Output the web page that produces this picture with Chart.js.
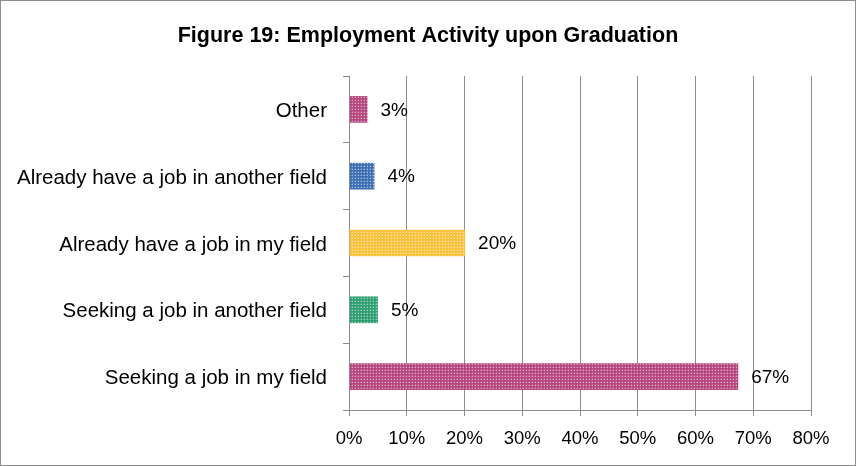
<!DOCTYPE html>
<html>
<head>
<meta charset="utf-8">
<script src="https://cdn.jsdelivr.net/npm/chart.js@4"></script>
<style>
  html, body { margin: 0; padding: 0; background: #fff; }
  #wrap { width: 856px; height: 466px; box-sizing: border-box; border: 1px solid #8c8c8c; position: relative; }
  canvas { position: absolute; left: -1px; top: -1px; }
</style>
</head>
<body>
<div id="wrap"><canvas id="chart" width="856" height="466"></canvas></div>
<script>
// Chart data (bottom to top in the picture, listed top to bottom here)
const categories = [
    'Other',
    'Already have a job in another field',
    'Already have a job in my field',
    'Seeking a job in another field',
    'Seeking a job in my field'
];
const shares = [3.2, 4.4, 20.1, 5.0, 67.4];
const barColors = ['#b5467e', '#3d70b2', '#f9c23a', '#2f9f72', '#b5467e'];
const xTicks = [0, 10, 20, 30, 40, 50, 60, 70, 80];
const chartTitle = 'Figure 19: Employment Activity upon Graduation';

const FONT = '"Liberation Sans", Arial, sans-serif';

// small grid-dot fill like the office-style pattern
function makePattern(color) {
    const c = document.createElement('canvas');
    c.width = 3; c.height = 3;
    const g = c.getContext('2d');
    g.fillStyle = color;
    g.fillRect(0, 0, 3, 3);
    g.fillStyle = 'rgba(255,255,255,0.55)';
    g.fillRect(1, 1, 1, 1);
    g.fillStyle = 'rgba(255,255,255,0.2)';
    g.fillRect(1, 0, 1, 1);
    g.fillRect(0, 1, 1, 1);
    return g.createPattern(c, 'repeat');
}

const ctx = document.getElementById('chart').getContext('2d');

const valueLabels = {
    id: 'valueLabels',
    afterDatasetsDraw(chart) {
        const c = chart.ctx;
        const meta = chart.getDatasetMeta(0);
        c.save();
        c.font = '19px ' + FONT;
        c.fillStyle = '#000';
        c.textBaseline = 'middle';
        meta.data.forEach((bar, i) => {
            c.fillText(Math.round(shares[i]) + '%', bar.x + 13, bar.y + 1);
        });
        c.restore();
    }
};

const titleText = {
    id: 'titleText',
    afterDraw(chart) {
        const c = chart.ctx;
        c.save();
        c.font = 'bold 21.5px ' + FONT;
        c.fillStyle = '#000';
        c.textAlign = 'center';
        c.textBaseline = 'middle';
        c.fillText(chartTitle, 428, 36);
        c.restore();
    }
};

new Chart(ctx, {
    type: 'bar',
    data: {
        labels: categories,
        datasets: [{
            data: shares,
            backgroundColor: barColors.map(makePattern),
            borderWidth: 0,
            barPercentage: 0.4,
            categoryPercentage: 1.0
        }]
    },
    options: {
        indexAxis: 'y',
        responsive: false,
        animation: false,
        layout: { padding: { top: 76, right: 45, left: 0, bottom: 0 } },
        plugins: {
            legend: { display: false },
            title: { display: false },
            tooltip: { enabled: false }
        },
        scales: {
            x: {
                min: 0,
                max: 80,
                afterBuildTicks: axis => { axis.ticks = xTicks.map(v => ({ value: v })); },
                ticks: {
                    callback: v => v + '%',
                    color: '#000',
                    font: { family: FONT, size: 18.5 },
                    padding: 12
                },
                grid: { color: '#8c8c8c', lineWidth: 1, tickLength: 6 },
                border: { color: '#8c8c8c', width: 1 },
                afterFit: s => { s.height = 56; }
            },
            y: {
                offset: true,
                ticks: {
                    color: '#000',
                    font: { family: FONT, size: 20.5 },
                    padding: 16,
                    labelOffset: 2
                },
                grid: { drawOnChartArea: false, offset: true, color: '#8c8c8c', tickLength: 6 },
                border: { color: '#8c8c8c', width: 1 },
                afterFit: s => { s.width = 349; }
            }
        }
    },
    plugins: [valueLabels, titleText]
});
</script>
</body>
</html>
